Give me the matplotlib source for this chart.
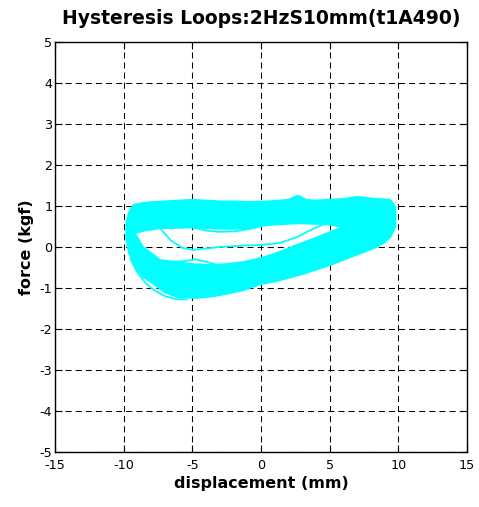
import matplotlib.pyplot as plt
from matplotlib.path import Path
from matplotlib.patches import PathPatch

plt.rcParams['font.family'] = ['DejaVu Sans']
plt.rcParams['axes.unicode_minus'] = False

title = "Hysteresis Loops:2HzS10mm(t1A490)"
xticks = [-15, -10, -5, 0, 5, 10, 15]
yticks = [-5, -4, -3, -2, -1, 0, 1, 2, 3, 4, 5]

# outer envelope of all the overlapping cycles (clockwise)
outer_x = [-9.3, -8.6, -8.0, -7.0, -6.0, -5.0, -4.0, -3.0, -2.0, -1.0, 0.0, 1.0, 2.0,
           2.7, 3.3, 4.0, 5.0, 6.0, 7.0, 8.0, 9.0, 9.4, 9.76, 9.8, 9.76, 9.4, 9.0,
           8.4, 7.0, 5.0, 3.0, 1.0, 0.0, -1.3, -2.5, -3.5, -4.7, -6.1, -7.0, -7.9,
           -8.6, -9.2, -9.6, -9.8, -9.8, -9.6, -9.3]
outer_y = [1.02, 1.07, 1.09, 1.11, 1.13, 1.15, 1.13, 1.11, 1.11, 1.1, 1.1, 1.12, 1.15,
           1.25, 1.15, 1.13, 1.15, 1.17, 1.22, 1.18, 1.16, 1.15, 0.98, 0.75, 0.49, 0.24, 0.12,
           0.0, -0.18, -0.44, -0.66, -0.84, -0.9, -1.05, -1.14, -1.2, -1.24, -1.22, -1.1, -0.88,
           -0.72, -0.45, -0.15, 0.2, 0.58, 0.85, 1.02]

# hole in the middle of the band (counter-clockwise)
inner_x = [-9.2, -8.6, -7.35, -6.1, -5.0, -3.7, -2.5, -1.3, 0.0, 1.2, 2.4, 3.6, 4.8, 6.0,
           4.8, 2.6, 1.0, 0.0, -1.3, -3.0, -5.0, -6.0, -7.35, -8.5, -9.2]
inner_y = [0.34, 0.0, -0.32, -0.37, -0.42, -0.44, -0.42, -0.37, -0.3, -0.15, 0.02, 0.17, 0.33, 0.49,
           0.56, 0.58, 0.55, 0.52, 0.45, 0.45, 0.48, 0.47, 0.46, 0.4, 0.34]

# single stray cycles crossing the hole
stray1_x = [-7.35, -6.6, -5.75, -4.95, -3.0, -1.5, 0.0, 1.4, 2.6, 3.6, 4.5]
stray1_y = [0.46, 0.17, -0.02, -0.07, 0.0, 0.03, 0.05, 0.1, 0.24, 0.41, 0.55]
stray2_x = [-5.0, -4.0, -3.0, -2.0, -1.3, 0.0]
stray2_y = [0.48, 0.4, 0.37, 0.38, 0.41, 0.5]
stray3_x = [-6.5, -5.5, -4.8, -4.0, -3.2]
stray3_y = [-0.36, -0.34, -0.3, -0.36, -0.44]
stray4_x = [-1.0, 0.5, 2.0, 3.5, 5.0]
stray4_y = [-0.35, -0.22, -0.05, 0.12, 0.3]
# a cycle running just outside the band at the lower left
stray5_x = [-9.5, -9.0, -8.4, -7.8, -7.0, -6.2, -5.4]
stray5_y = [-0.3, -0.62, -0.88, -1.05, -1.2, -1.27, -1.28]

fig = plt.figure(figsize=(4.79, 5.07), dpi=100)
ax = fig.add_axes([55 / 479, 55 / 507, 412 / 479, 410 / 507])

verts = list(zip(outer_x, outer_y)) + list(zip(inner_x, inner_y))
codes = ([Path.MOVETO] + [Path.LINETO] * (len(outer_x) - 1)
         + [Path.MOVETO] + [Path.LINETO] * (len(inner_x) - 1))
band = PathPatch(Path(verts, codes), facecolor='cyan', edgecolor='cyan', lw=1.5, zorder=3)
ax.add_patch(band)

for sx, sy in [(stray1_x, stray1_y), (stray2_x, stray2_y), (stray3_x, stray3_y),
               (stray4_x, stray4_y), (stray5_x, stray5_y)]:
    ax.plot(sx, sy, color='cyan', lw=1.3, zorder=3)

ax.set_xlim(-15, 15)
ax.set_ylim(-5, 5)
ax.set_xticks(xticks)
ax.set_yticks(yticks)
ax.tick_params(direction='in', length=5, top=True, right=True, labelsize=9.2)
ax.tick_params(axis='x', pad=5)
ax.tick_params(axis='y', pad=2)
ax.grid(True, color='k', linestyle=(0, (5.8, 3.9)), linewidth=0.75, zorder=2)
ax.set_axisbelow(False)
for s in ax.spines.values():
    s.set_linewidth(1.0)
    s.set_zorder(4)

ax.set_title(title, fontsize=13.5, fontweight='bold', pad=13)
ax.set_xlabel('displacement (mm)', fontsize=11.5, fontweight='bold', labelpad=3)
ax.set_ylabel('force (kgf)', fontsize=11.5, fontweight='bold', labelpad=4)

fig.savefig('out.png', dpi=100)
